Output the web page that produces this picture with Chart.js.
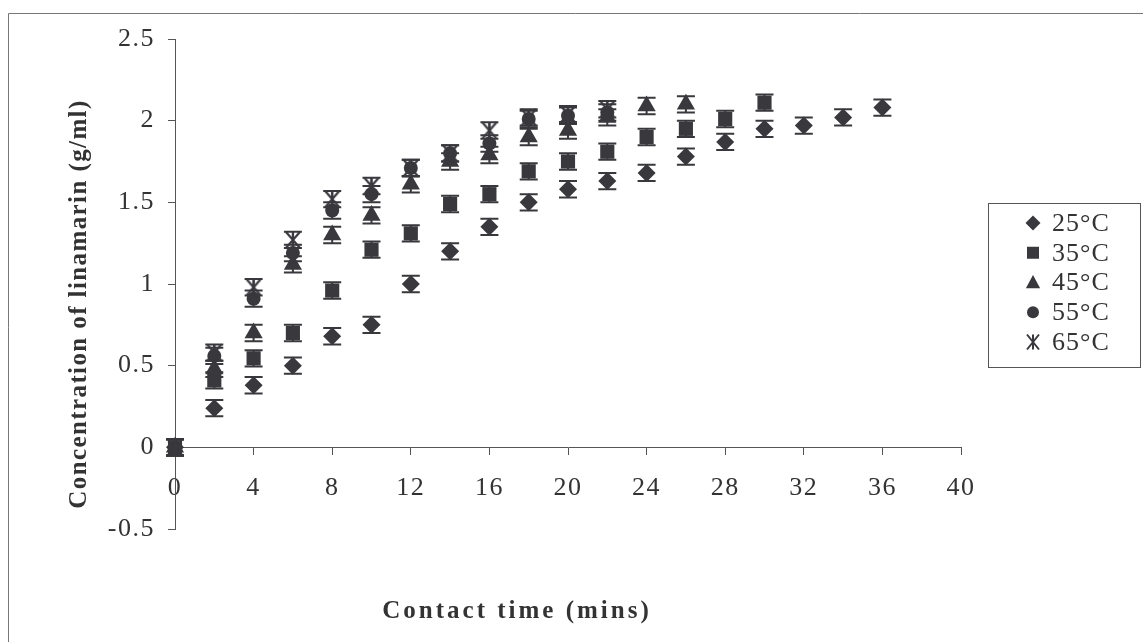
<!DOCTYPE html>
<html><head><meta charset="utf-8">
<script src="https://cdn.jsdelivr.net/npm/chart.js@4/dist/chart.umd.min.js"></script>
<style>html,body{margin:0;padding:0;background:#fff;} #wrap{position:relative;width:1143px;height:642px;} canvas{display:block;}</style>
</head><body><div id="wrap"><canvas id="c" width="1143" height="642"></canvas></div>
<script>
// ---- data ----
const TIMES = [0,2,4,6,8,10,12,14,16,18,20,22,24,26,28,30,32,34,36];
const SERIES_LABELS = ['25\u00B0C','35\u00B0C','45\u00B0C','55\u00B0C','65\u00B0C'];
const C25 = [0,0.24,0.38,0.50,0.68,0.75,1.00,1.20,1.35,1.50,1.58,1.63,1.68,1.78,1.87,1.95,1.97,2.02,2.08];
const C35 = [0,0.41,0.545,0.70,0.96,1.21,1.31,1.49,1.55,1.69,1.75,1.81,1.90,1.95,2.01,2.11];
const C45 = [0,0.48,0.70,1.12,1.30,1.42,1.61,1.75,1.79,1.90,1.94,2.02,2.09,2.10];
const C55 = [0,0.56,0.91,1.19,1.45,1.55,1.71,1.80,1.86,2.01,2.03,2.05];
const C65 = [0,0.58,0.98,1.27,1.52,1.60,1.71,1.80,1.94,2.02,2.04,2.07];
const ERR = 0.05;
const X_TITLE = 'Contact time (mins)';
const Y_TITLE = 'Concentration of linamarin (g/ml)';
const X_MIN = 0, X_MAX = 40, X_STEP = 4;
const Y_MIN = -0.5, Y_MAX = 2.5, Y_STEP = 0.5;

const INK = '#38383d';
const AXIS = '#555';
const FONT = "'Liberation Serif', 'Times New Roman', serif";

function makeStar(size, color) {
  const c = document.createElement('canvas');
  c.width = size; c.height = size;
  const g = c.getContext('2d');
  g.strokeStyle = color; g.lineWidth = 2.2; g.lineCap = 'butt';
  const m = size / 2, h = size / 2 - 1, w = size / 2 - 2;
  g.beginPath();
  g.moveTo(m, m - h); g.lineTo(m, m + h);
  g.moveTo(m - w, m - h); g.lineTo(m + w, m + h);
  g.moveTo(m + w, m - h); g.lineTo(m - w, m + h);
  g.stroke();
  return c;
}
const STAR = makeStar(18, INK);

function toPts(vals) { return vals.map((v, i) => ({x: TIMES[i], y: v})); }

const STYLES = [
  {style: 'rectRot', r: 9},
  {style: 'rect', r: 10},
  {style: 'triangle', r: 10.5},
  {style: 'circle', r: 7},
  {style: STAR, r: 9}
];
const VALUES = [C25, C35, C45, C55, C65];

const datasets = VALUES.map((vals, k) => ({
  label: SERIES_LABELS[k],
  data: toPts(vals),
  showLine: false,
  pointStyle: STYLES[k].style,
  pointRadius: STYLES[k].r,
  pointHoverRadius: STYLES[k].r,
  backgroundColor: INK,
  borderColor: INK,
  pointBorderWidth: 0,
  clip: false,
  order: 4 - k
}));

const errorBars = {
  id: 'errorBars',
  beforeDatasetDraw(chart, args) {
    const ctx = chart.ctx, ys = chart.scales.y;
    const ds = chart.data.datasets[args.index];
    ctx.save();
    ctx.strokeStyle = INK; ctx.lineWidth = 2;
    args.meta.data.forEach((el, i) => {
      const v = ds.data[i].y;
      const x = el.x;
      const y1 = ys.getPixelForValue(v + ERR), y2 = ys.getPixelForValue(v - ERR);
      ctx.beginPath();
      ctx.moveTo(x, y1); ctx.lineTo(x, y2);
      ctx.moveTo(x - 9, y1); ctx.lineTo(x + 9, y1);
      ctx.moveTo(x - 9, y2); ctx.lineTo(x + 9, y2);
      ctx.stroke();
    });
    ctx.restore();
  }
};

const spacing = {
  id: 'spacing',
  beforeLayout(chart) { chart.ctx.letterSpacing = '1.5px'; },
  beforeDraw(chart) { chart.ctx.letterSpacing = '1.5px'; }
};

function drawMarker(ctx, style, x, y, s) {
  ctx.beginPath();
  if (style === 'rectRot') {
    ctx.moveTo(x, y - s); ctx.lineTo(x + s, y); ctx.lineTo(x, y + s); ctx.lineTo(x - s, y); ctx.closePath(); ctx.fill();
  } else if (style === 'rect') {
    ctx.rect(x - s * 0.8, y - s * 0.8, s * 1.6, s * 1.6); ctx.fill();
  } else if (style === 'triangle') {
    ctx.moveTo(x, y - s); ctx.lineTo(x + s * 0.95, y + s * 0.75); ctx.lineTo(x - s * 0.95, y + s * 0.75); ctx.closePath(); ctx.fill();
  } else if (style === 'circle') {
    ctx.arc(x, y, s * 0.8, 0, Math.PI * 2); ctx.fill();
  } else {
    ctx.lineWidth = 2;
    ctx.moveTo(x, y - s); ctx.lineTo(x, y + s);
    ctx.moveTo(x - s * 0.8, y - s); ctx.lineTo(x + s * 0.8, y + s);
    ctx.moveTo(x + s * 0.8, y - s); ctx.lineTo(x - s * 0.8, y + s);
    ctx.stroke();
  }
}

const decor = {
  id: 'decor',
  beforeDraw(chart) {
    const ctx = chart.ctx;
    ctx.save();
    ctx.strokeStyle = '#777'; ctx.lineWidth = 1;
    ctx.beginPath();
    ctx.moveTo(8.5, 642); ctx.lineTo(8.5, 13.5); ctx.lineTo(1143, 13.5);
    ctx.stroke();
    ctx.restore();
  },
  afterDraw(chart) {
    const ctx = chart.ctx;
    ctx.save();
    ctx.fillStyle = '#333';
    ctx.textAlign = 'center'; ctx.textBaseline = 'middle';
    ctx.font = "bold 25px " + FONT;
    ctx.letterSpacing = '3px';
    ctx.fillText(X_TITLE, 517, 612);
    ctx.save();
    ctx.translate(80, 304);
    ctx.rotate(-Math.PI / 2);
    ctx.letterSpacing = '1.4px';
    ctx.fillText(Y_TITLE, 0, 0);
    ctx.restore();
    // legend
    ctx.strokeStyle = '#555'; ctx.lineWidth = 1;
    ctx.strokeRect(988.5, 203.5, 152, 164);
    ctx.font = "26px " + FONT;
    ctx.letterSpacing = '1px';
    ctx.textAlign = 'left';
    SERIES_LABELS.forEach((lab, k) => {
      const y = 223 + k * 29.75;
      ctx.fillStyle = INK; ctx.strokeStyle = INK;
      drawMarker(ctx, STYLES[k].style === STAR ? 'star' : STYLES[k].style, 1033, y, 7.5);
      ctx.fillStyle = '#333';
      ctx.fillText(lab, 1052, y + 1);
    });
    ctx.restore();
  }
};

new Chart(document.getElementById('c'), {
  type: 'scatter',
  data: {datasets},
  plugins: [spacing, errorBars, decor],
  options: {
    responsive: false,
    animation: false,
    devicePixelRatio: 1,
    layout: {padding: {left: 0, right: 182, top: 39, bottom: 113}},
    plugins: {legend: {display: false}, tooltip: {enabled: false}},
    scales: {
      x: {
        type: 'linear',
        position: {y: 0},
        min: X_MIN, max: X_MAX,
        ticks: {stepSize: X_STEP, color: '#333', font: {family: FONT, size: 26}, padding: 18, maxRotation: 0,
                callback: (v) => String(v)},
        grid: {drawOnChartArea: false, drawTicks: true, tickLength: 7, tickColor: AXIS},
        border: {color: AXIS, width: 1}
      },
      y: {
        type: 'linear',
        position: 'left',
        min: Y_MIN, max: Y_MAX,
        ticks: {stepSize: Y_STEP, color: '#333', font: {family: FONT, size: 26}, padding: 13,
                callback: (v) => String(v)},
        grid: {drawOnChartArea: false, drawTicks: true, tickLength: 7, tickColor: AXIS},
        border: {color: AXIS, width: 1},
        afterFit(scale) { scale.width = 175; }
      }
    }
  }
});
</script>
</body></html>
